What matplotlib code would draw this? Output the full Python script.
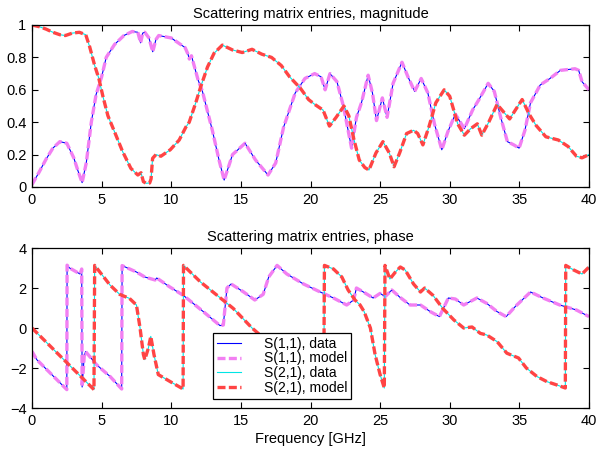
import matplotlib
matplotlib.use("Agg")
import matplotlib.pyplot as plt

plt.rcParams['font.family'] = ['Liberation Sans', 'DejaVu Sans']
plt.rcParams['font.size'] = 10.5

# ---------------- data ----------------
# |S11| (data and model)
f_s11_mag = [0, 0.5, 1.0, 1.5, 2.0, 2.5, 3.0, 3.3, 3.6, 3.9, 4.26, 4.6, 5.0, 5.33, 5.93, 6.6, 7.2, 7.6, 7.8, 7.95, 8.1, 8.4, 8.67, 8.9, 9.1, 10.0, 11.0, 11.2, 11.3, 11.45, 11.93, 12.24, 12.95, 13.43, 13.8, 14.4, 15.3, 16.05, 16.95, 17.5, 18.07, 18.9, 19.6, 20.3, 20.76, 21.05, 21.4, 21.9, 22.36, 22.7, 22.95, 23.3, 23.66, 24.14, 24.45, 24.74, 25.16, 25.5, 25.93, 26.57, 27.0, 27.48, 27.95, 28.43, 28.9, 29.43, 29.86, 30.4, 31.05, 31.64, 32.1, 32.76, 33.2, 33.66, 34.14, 34.6, 34.98, 35.4, 35.8, 36.5, 37.2, 37.95, 39.0, 39.26, 39.5, 40.0]
s11_mag = [0.015, 0.09, 0.17, 0.24, 0.28, 0.27, 0.18, 0.10, 0.027, 0.15, 0.40, 0.57, 0.68, 0.80, 0.88, 0.935, 0.96, 0.955, 0.89, 0.95, 0.955, 0.92, 0.835, 0.91, 0.935, 0.92, 0.86, 0.82, 0.79, 0.81, 0.66, 0.59, 0.35, 0.167, 0.043, 0.20, 0.27, 0.167, 0.074, 0.148, 0.37, 0.58, 0.67, 0.70, 0.68, 0.60, 0.70, 0.65, 0.50, 0.35, 0.24, 0.43, 0.52, 0.69, 0.58, 0.41, 0.55, 0.43, 0.64, 0.77, 0.68, 0.59, 0.67, 0.58, 0.39, 0.23, 0.34, 0.45, 0.36, 0.475, 0.54, 0.64, 0.59, 0.43, 0.28, 0.26, 0.24, 0.35, 0.52, 0.63, 0.67, 0.72, 0.73, 0.72, 0.65, 0.60]

# |S21| (data and model)
f_s21_mag = [0, 0.5, 1.0, 1.5, 2.0, 2.4, 2.9, 3.4, 3.86, 4.14, 4.5, 4.8, 5.1, 5.45, 5.93, 6.5, 7.1, 7.6, 7.83, 8.0, 8.2, 8.45, 8.55, 8.66, 8.9, 9.26, 9.93, 10.57, 11.05, 11.29, 11.76, 12.12, 12.6, 13.07, 13.67, 14.4, 15.1, 15.8, 16.5, 17.2, 17.9, 18.5, 19.27, 19.86, 20.3, 20.9, 21.36, 21.84, 22.4, 22.75, 23.1, 23.5, 23.9, 24.2, 24.7, 25.2, 25.66, 26.0, 26.4, 26.9, 27.4, 27.7, 28.07, 28.5, 29.0, 29.6, 30.0, 30.2, 30.57, 31.05, 31.5, 31.98, 32.3, 32.8, 33.4, 33.7, 34.3, 35.2, 35.7, 36.2, 36.9, 37.8, 38.5, 39.1, 39.5, 40.0]
s21_mag = [1.0, 0.99, 0.975, 0.955, 0.94, 0.935, 0.95, 0.955, 0.94, 0.866, 0.75, 0.67, 0.557, 0.44, 0.34, 0.22, 0.115, 0.074, 0.088, 0.033, 0.023, 0.025, 0.05, 0.177, 0.20, 0.19, 0.23, 0.29, 0.37, 0.40, 0.52, 0.62, 0.74, 0.825, 0.876, 0.846, 0.83, 0.85, 0.82, 0.80, 0.75, 0.68, 0.61, 0.54, 0.51, 0.475, 0.376, 0.43, 0.50, 0.44, 0.30, 0.167, 0.12, 0.105, 0.21, 0.28, 0.21, 0.125, 0.21, 0.33, 0.35, 0.33, 0.26, 0.37, 0.52, 0.60, 0.56, 0.50, 0.39, 0.32, 0.36, 0.39, 0.32, 0.40, 0.51, 0.48, 0.42, 0.54, 0.45, 0.38, 0.31, 0.29, 0.25, 0.19, 0.18, 0.20]

# phase S11 (rad, wrapped)
f_s11_ph = [0, 0.34, 2.5, 2.52, 2.7, 3.45, 3.57, 3.6, 3.75, 3.85, 4.64, 5.6, 6.44, 6.47, 7.5, 8.1, 8.84, 8.96, 9.9, 10.87, 12.3, 13.5, 13.74, 14.0, 14.3, 15.2, 16.0, 16.6, 17.0, 17.6, 18.3, 19.5, 20.7, 21.65, 22.6, 23.1, 23.3, 23.8, 24.5, 25.0, 25.36, 25.84, 26.4, 27.15, 27.9, 28.6, 29.26, 29.9, 30.4, 31.0, 31.95, 32.66, 33.4, 34.05, 34.7, 35.8, 36.7, 37.9, 39.1, 40.0]
s11_ph = [-1.17, -1.58, -3.08, 3.14, 3.0, 2.7, 2.95, -2.95, -1.4, -1.18, -1.84, -2.42, -3.05, 3.12, 2.8, 2.55, 2.4, 2.5, 2.05, 1.63, 0.82, 0.12, 0.15, 2.0, 2.2, 1.8, 1.4, 1.68, 2.55, 3.13, 2.7, 2.2, 1.8, 1.5, 1.15, 1.4, 2.0, 1.8, 1.5, 1.73, 1.57, 1.9, 1.55, 1.15, 1.15, 0.82, 0.57, 1.5, 1.45, 1.15, 1.5, 1.23, 0.82, 0.57, 1.07, 1.8, 1.5, 1.15, 0.9, 0.57]

# phase S21 (rad, wrapped)
f_s21_ph = [0, 4.45, 4.5, 5.6, 6.3, 7.0, 7.5, 7.76, 8.0, 8.1, 8.36, 8.53, 8.76, 9.07, 9.9, 10.85, 10.88, 12.1, 13.3, 14.45, 15.8, 20.95, 21.0, 21.65, 22.25, 22.7, 23.2, 23.56, 23.85, 24.3, 24.64, 25.0, 25.3, 25.35, 25.7, 26.1, 26.45, 26.8, 27.4, 27.9, 28.2, 28.8, 29.5, 30.3, 31.0, 31.6, 32.2, 32.66, 33.4, 34.1, 34.94, 35.5, 36.25, 36.97, 37.7, 38.3, 38.33, 38.9, 39.5, 40.0]
s21_ph = [0.0, -3.08, 3.13, 2.15, 1.68, 1.48, 1.15, 0.0, -1.33, -1.58, -1.0, -0.42, -1.33, -2.33, -2.67, -3.05, 3.13, 2.3, 1.63, 0.98, 0.0, -3.1, 3.13, 2.95, 2.55, 1.9, 1.4, 1.15, 0.82, 0.0, -1.33, -2.33, -3.0, 3.13, 2.45, 2.8, 3.05, 2.9, 2.2, 1.8, 2.0, 1.63, 0.98, 0.4, 0.0, 0.05, -0.27, -0.35, -0.68, -1.26, -1.5, -2.0, -2.42, -2.68, -2.85, -3.0, 3.13, 2.9, 2.7, 3.05]

legend_labels = ['S(1,1), data', 'S(1,1), model', 'S(2,1), data', 'S(2,1), model']
x_ticks = [0, 5, 10, 15, 20, 25, 30, 35, 40]
mag_ticks = [0, 0.2, 0.4, 0.6, 0.8, 1.0]
mag_ticklabels = ['0', '0.2', '0.4', '0.6', '0.8', '1']
ph_ticks = [-4, -2, 0, 2, 4]

# ---------------- styles ----------------
c_blue = '#0000ff'
c_mag = '#f27ff2'
c_cyan = '#00e5e5'
c_red = '#ff4444'
lw_data = 0.8
lw_model = 2.4
dash = (2.4, 1.0)

fig = plt.figure(figsize=(6.01, 4.54), dpi=100)
ax1 = fig.add_axes([32/601, 1-187/454, 557/601, 162/454])
ax2 = fig.add_axes([32/601, 1-408/454, 557/601, 160/454])


def draw(ax, f11, v11, f21, v21):
    h1, = ax.plot(f11, v11, color=c_blue, lw=lw_data)
    h2, = ax.plot(f11, v11, color=c_mag, lw=lw_model, dashes=dash)
    h3, = ax.plot(f21, v21, color=c_cyan, lw=lw_data)
    h4, = ax.plot(f21, v21, color=c_red, lw=lw_model, dashes=dash)
    return [h1, h2, h3, h4]


draw(ax1, f_s11_mag, s11_mag, f_s21_mag, s21_mag)
handles = draw(ax2, f_s11_ph, s11_ph, f_s21_ph, s21_ph)

for ax in (ax1, ax2):
    ax.set_xlim(0, 40)
    ax.set_xticks(x_ticks)
    ax.tick_params(direction='in', top=True, right=True, length=4, width=0.8,
                   labelsize=10.5, pad=4)
    for s in ax.spines.values():
        s.set_linewidth(0.9)

ax1.set_ylim(0, 1)
ax1.set_yticks(mag_ticks)
ax1.set_yticklabels(mag_ticklabels)
ax1.set_title('Scattering matrix entries, magnitude', fontsize=10.5, pad=5)

ax2.set_ylim(-4, 4)
ax2.set_yticks(ph_ticks)
ax2.set_title('Scattering matrix entries, phase', fontsize=10.5, pad=5)
ax2.set_xlabel('Frequency [GHz]', fontsize=10.5, labelpad=3)

leg = ax2.legend(handles, legend_labels, loc='lower left',
                 bbox_to_anchor=(181/557, 9/160), fancybox=False, framealpha=1,
                 edgecolor='black', fontsize=10, handlelength=1.75,
                 borderpad=0.3, labelspacing=0.05, handletextpad=1.6,
                 borderaxespad=0)
leg.get_frame().set_linewidth(0.9)

fig.savefig('out.png', dpi=100)
